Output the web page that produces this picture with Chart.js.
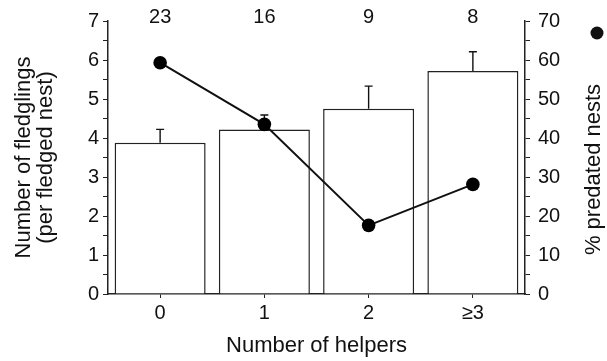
<!DOCTYPE html>
<html>
<head>
<meta charset="utf-8">
<script src="https://cdn.jsdelivr.net/npm/chart.js@4/dist/chart.umd.min.js"></script>
<style>
html,body{margin:0;padding:0;background:#fff;}
#wrap{width:607px;height:361px;position:relative;}
</style>
</head>
<body>
<div id="wrap"><canvas id="c" width="607" height="361"></canvas></div>
<script>
const categories = ['0', '1', '2', '\u22653'];
const fledglings = [3.88, 4.22, 4.75, 5.72];
const fledglingsErrTop = [4.22, 4.59, 5.33, 6.21];
const predated = [59.3, 43.5, 17.6, 28.1];
const sampleSizes = ['23', '16', '9', '8'];

const FONT = "'Liberation Sans', Arial, Helvetica, sans-serif";

const extras = {
  id: 'extras',
  afterDatasetDraw(chart, args) {
    if (args.index !== 0) return;
    const ctx = chart.ctx;
    const meta = chart.getDatasetMeta(0);
    const y = chart.scales.y;
    ctx.save();
    ctx.strokeStyle = '#111';
    ctx.lineWidth = 1.4;
    meta.data.forEach((el, i) => {
      const yt = y.getPixelForValue(fledglingsErrTop[i]);
      ctx.beginPath();
      ctx.moveTo(el.x, el.y);
      ctx.lineTo(el.x, yt);
      ctx.moveTo(el.x - 4, yt);
      ctx.lineTo(el.x + 4, yt);
      ctx.stroke();
    });
    ctx.restore();
  },
  afterDraw(chart) {
    const ctx = chart.ctx;
    const x = chart.scales.x;
    const area = chart.chartArea;
    ctx.save();
    ctx.fillStyle = '#111';
    ctx.font = '20px ' + FONT;
    ctx.textAlign = 'center';
    ctx.textBaseline = 'middle';
    sampleSizes.forEach((s, i) => {
      ctx.fillText(s, x.getPixelForValue(i), area.top - 4);
    });
    // right axis title
    const tx = chart.width - 13;
    const ty = (area.top + area.bottom) / 2 + 12;
    ctx.save();
    ctx.translate(tx, ty);
    ctx.rotate(-Math.PI / 2);
    ctx.font = '22px ' + FONT;
    ctx.fillText('% predated nests', 0, 0);
    ctx.restore();
    ctx.beginPath();
    ctx.arc(tx + 3, area.top + 12, 6.5, 0, Math.PI * 2);
    ctx.fill();
    ctx.restore();
  }
};

new Chart(document.getElementById('c'), {
  data: {
    labels: categories,
    datasets: [
      {
        type: 'bar',
        data: fledglings,
        yAxisID: 'y',
        backgroundColor: '#fff',
        borderColor: '#222',
        borderWidth: 1.5,
        barPercentage: 0.873,
        categoryPercentage: 1,
        order: 1
      },
      {
        type: 'line',
        data: predated,
        yAxisID: 'y2',
        borderColor: '#111',
        borderWidth: 2,
        pointRadius: 6.8,
        pointBackgroundColor: '#000',
        pointBorderColor: '#000',
        pointBorderWidth: 0,
        tension: 0,
        order: 0
      }
    ]
  },
  options: {
    responsive: false,
    animation: false,
    layout: { padding: { top: 21, left: 0, right: 0, bottom: 0 } },
    plugins: { legend: { display: false }, tooltip: { enabled: false } },
    scales: {
      x: {
        type: 'category',
        offset: true,
        afterFit(s) { s.height = 67; },
        grid: { drawOnChartArea: false, offset: false, tickLength: 4, color: '#222', tickWidth: 1 },
        border: { display: true, color: '#222', width: 1.5 },
        ticks: { color: '#111', font: { family: FONT, size: 20 }, padding: 3 },
        title: {
          display: true, text: 'Number of helpers', color: '#111',
          font: { family: FONT, size: 22, lineHeight: 1 }, padding: { top: 0, bottom: 4 }
        }
      },
      y: {
        position: 'left',
        min: 0, max: 7,
        afterFit(s) { s.width = 108; },
        afterBuildTicks(s) { s.ticks = []; for (let v = 0; v <= 14; v++) s.ticks.push({ value: v / 2 }); },
        grid: { drawOnChartArea: false, tickLength: 5, color: '#222' },
        border: { display: true, color: '#222', width: 1.5 },
        ticks: {
          color: '#111', font: { family: FONT, size: 20 }, padding: 4,
          autoSkip: false,
          callback(v) { return Number.isInteger(v) ? String(v) : ''; }
        },
        title: {
          display: true, text: ['Number of fledglings', '(per fledged nest)'], color: '#111',
          font: { family: FONT, size: 22, lineHeight: 1 }, padding: { top: 13, bottom: 0 }
        }
      },
      y2: {
        position: 'right',
        min: 0, max: 70,
        afterFit(s) { s.width = 82; },
        afterBuildTicks(s) { s.ticks = []; for (let v = 0; v <= 70; v += 5) s.ticks.push({ value: v }); },
        grid: { drawOnChartArea: false, tickLength: 5, color: '#222' },
        border: { display: true, color: '#222', width: 1.5 },
        ticks: {
          color: '#111', font: { family: FONT, size: 20 }, padding: 8,
          autoSkip: false,
          callback(v) { return v % 10 === 0 ? String(v) : ''; }
        },
        title: { display: false }
      }
    }
  },
  plugins: [extras]
});
</script>
</body>
</html>
